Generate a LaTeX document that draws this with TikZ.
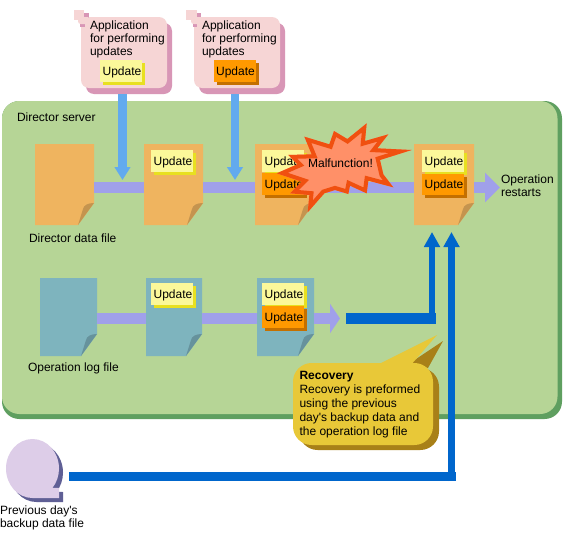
\documentclass[tikz,border=0pt]{standalone}
\usepackage{fontspec}
\setmainfont{Liberation Sans}
\usetikzlibrary{arrows.meta,shadows}
\definecolor{panelG}{HTML}{B6D596}
\definecolor{panelD}{HTML}{5F9F60}
\definecolor{docO}{HTML}{EFB45F}
\definecolor{foldO}{HTML}{C4944F}
\definecolor{docB}{HTML}{7EB4BE}
\definecolor{foldB}{HTML}{66929C}
\definecolor{barP}{HTML}{A0A0EA}
\definecolor{lightB}{HTML}{62AAEE}
\definecolor{darkB}{HTML}{0066CC}
\definecolor{appP}{HTML}{F6D5D5}
\definecolor{appS}{HTML}{D896B6}
\definecolor{yelF}{HTML}{FBF89A}
\definecolor{yelS}{HTML}{E8E020}
\definecolor{oraF}{HTML}{FF9900}
\definecolor{oraS}{HTML}{C47000}
\definecolor{burstF}{HTML}{FF9068}
\definecolor{burstL}{HTML}{F05010}
\definecolor{callF}{HTML}{E8C838}
\definecolor{callS}{HTML}{A88018}
\definecolor{discF}{HTML}{DDCDE8}
\definecolor{discS}{HTML}{5F5F95}
\newcommand\upd{\hspace{1.5pt}Update}
\newcommand\burstpath{(103,65) -- (178,88) -- (192,48) -- (232,72) -- (290,25) -- (285,78) -- (355,58) -- (322,100)
 -- (425,105) -- (330,135) -- (340,178) -- (370,217) -- (295,197) -- (290,235) -- (240,212)
 -- (235,237) -- (195,225) -- (163,235) -- (113,292) -- (118,240) -- (60,235) -- (95,200)
 -- (20,175) -- (82,148) -- (55,120) -- (125,118) -- cycle}
\newcommand\docfile[7]{%
  \fill[#6] (#2,#3) -- ++(#4,0) -- ++(0,#5-22) -- ++(-16,22) -- ++(-#4+16,0) -- cycle;
  \fill[#7] (#2+#4,#3+#5-22) .. controls (#2+#4-6,#3+#5-22) and (#2+#4-10,#3+#5-20) .. (#2+#4-11,#3+#5-16) -- (#2+#4-16,#3+#5) -- cycle;
  \node[anchor=north west,minimum width=#4*.75pt,minimum height=#5*.75pt,inner sep=0pt,outer sep=0pt] (#1) at (#2,#3) {};
}
\tikzset{
  x=0.75pt,y=-0.75pt,
  txt/.style={inner sep=0pt,outer sep=0pt,anchor=west,align=left,font=\fontsize{9}{9.75}\selectfont},
  stickybase/.style={anchor=north west,inner sep=0pt,outer sep=0pt,minimum width=42*.75pt,minimum height=21.5*.75pt,text height=8pt,text depth=0.9pt,font=\fontsize{9}{9.75}\selectfont},
  yellownote/.style={stickybase,fill=yelF,copy shadow={shadow xshift=2.25pt,shadow yshift=-2.25pt,fill=yelS,draw=none}},
  orangenote/.style={stickybase,fill=oraF,copy shadow={shadow xshift=2.25pt,shadow yshift=-2.25pt,fill=oraS,draw=none}},
  appbox/.style={anchor=north west,inner sep=0pt,outer sep=0pt,minimum width=86*.75pt,minimum height=71*.75pt,fill=appP,rounded corners=6pt,copy shadow={shadow xshift=3.75pt,shadow yshift=-4.5pt,fill=appS,draw=none}},
  barline/.style={draw=barP,line width=8.25pt},
  lightarrow/.style={draw=lightB,line width=6.4pt,-{Triangle[length=9.75pt,width=11.5pt,fill=lightB]}},
  darkline/.style={draw=darkB},
}
\begin{document}
\begin{tikzpicture}
\useasboundingbox (0,0) rectangle (564,543);
\fill[white] (0,0) rectangle (564,543);
% panel
\fill[panelD,rounded corners=13pt] (2,101) rectangle (562,419);
\fill[panelG,rounded corners=13pt] (2,101) rectangle (557.5,414);
\node[txt] (lblserver) at (17,117) {Director server};
% named anchors for free connector ends
\coordinate (tipA) at (122.5,180);
\coordinate (tipB) at (235,180);
\coordinate (tipOut) at (500,187.5);
\coordinate (tipLog) at (340,318.5);
\coordinate (tipRec) at (432,232);
\coordinate (tipBak) at (451.5,232);
\coordinate (startRec) at (346,318.5);
\coordinate (cornerRec) at (435.5,318.5);
\coordinate (cornerRecV) at (432,324);
\coordinate (startBak) at (69,476.5);
\coordinate (cornerBak) at (455.5,476.5);
\coordinate (cornerBakV) at (451.5,481);
% documents
\docfile{d1}{35}{144}{59}{81}{docO}{foldO}
\docfile{d2}{144}{144}{59}{81}{docO}{foldO}
\docfile{d3}{255}{144}{59}{81}{docO}{foldO}
\docfile{d4}{414}{144}{60}{81}{docO}{foldO}
\docfile{l1}{40}{278}{57}{78}{docB}{foldB}
\docfile{l2}{146}{278}{56}{78}{docB}{foldB}
\docfile{l3}{257}{278}{57}{78}{docB}{foldB}
% bars
\draw[barline] (d1.east |- 0,187.5) -- (d2.west |- 0,187.5);
\draw[barline] (d2.east |- 0,187.5) -- (d3.west |- 0,187.5);
\draw[barline] (d3.east |- 0,187.5) -- (d4.west |- 0,187.5);
\draw[barline,-{Triangle[length=11.25pt,width=21.75pt,fill=barP]}] (d4.east |- 0,187.5) -- (tipOut);
\draw[barline] (l1.east |- 0,318.5) -- (l2.west |- 0,318.5);
\draw[barline] (l2.east |- 0,318.5) -- (l3.west |- 0,318.5);
\draw[barline,-{Triangle[length=7.5pt,width=21.75pt,fill=barP]}] (l3.east |- 0,318.5) -- (tipLog);
% application boxes
\node[appbox] (app1) at (81,17) {};
\node[appbox] (app2) at (194,17) {};
\fill[appS] (80,19) rectangle (84.5,27);
\fill[appS] (84,13) rectangle (89,18);
\fill[appP] (74,10) rectangle (84,20);
\fill[appS] (192.5,19) rectangle (197,27);
\fill[appS] (197,13) rectangle (201,18);
\fill[appP] (186,10) rectangle (197,20);
\fill[appP,rounded corners=2pt] (78,17) rectangle (90,24);
\fill[appP,rounded corners=2pt] (191,17) rectangle (203,24);
\node[txt] (t1) at (90,39) {Application\\for performing\\updates};
\node[txt] (t2) at (202,39) {Application\\for performing\\updates};
\node[yellownote] (a1u) at (100,60) {\upd};
\node[orangenote] (a2u) at (213.5,60) {\upd};
\draw[lightarrow] (tipA |- app1.south) ++(0,6) -- (tipA);
\draw[lightarrow] (tipB |- app2.south) ++(0,6) -- (tipB);
% notes on documents
\node[yellownote] (n2) at (151,150) {\upd};
\node[yellownote] (n3a) at (262,150) {\upd};
\node[orangenote] (n3b) at (262,173) {\upd};
\node[yellownote] (n4a) at (422,150) {\upd};
\node[orangenote] (n4b) at (422,173.5) {\upd};
\node[yellownote] (m2) at (151,283) {\upd};
\node[yellownote] (m3a) at (262,283) {\upd};
\node[orangenote] (m3b) at (262,306) {\upd};
% burst
\begin{scope}[shift={(270,115)},x=0.25pt,y=-0.25pt]
\fill[burstF] \burstpath;
\begin{scope}
\clip \burstpath;
\draw[burstL,line width=6pt,miter limit=10,line join=miter] \burstpath;
\end{scope}
\end{scope}
\node[inner sep=0pt,outer sep=0pt,font=\fontsize{9}{9.75}\selectfont] (burstlbl) at (340.5,163.5) {Malfunction!};
% labels
\node[txt] (lbld) at (29,238) {Director data file};
\node[txt] (lbll) at (28,368) {Operation log file};
\node[txt] (lblo) at (501,186) {Operation\\restarts};
\node[txt] (lblb) at (0,517.5) {Previous day\textquotesingle s\\backup data file};
% recovery lines
\draw[darkline,line width=8.25pt] (startRec) -- (cornerRec);
\draw[darkline,line width=5pt,-{Triangle[length=11.25pt,width=11.5pt,fill=darkB]}] (cornerRecV) -- (tipRec);
\draw[darkline,line width=6.75pt] (startBak) -- (cornerBak);
\draw[darkline,line width=5.6pt,-{Triangle[length=11.25pt,width=11.5pt,fill=darkB]}] (cornerBakV) -- (tipBak);
% callout
\fill[callS,rounded corners=14pt] (299,368) rectangle (439,450);
\fill[callS] (410,363) -- (443,341) -- (428,368) -- cycle;
\fill[callF] (375,366) -- (437,335) -- (410,366) -- cycle;
\fill[callF,rounded corners=14pt] (293,363) rectangle (433,445);
\node[inner sep=0pt,outer sep=0pt,anchor=north west,align=left,font=\fontsize{9}{10.5}\selectfont] (rec) at (299.5,371) {\textbf{Recovery}\\Recovery is preformed\\using the previous\\day\textquotesingle s backup data and\\the operation log file};
% disc
\fill[discS] (36.5,502) arc[start angle=90,end angle=401,x radius=26.5,y radius=29.5] -- (63,492) -- (63,502) -- cycle;
\fill[discF] (32.5,498) arc[start angle=90,end angle=401,x radius=26.5,y radius=29.5] -- (59,488) -- (59,498) -- cycle;
\end{tikzpicture}
\end{document}
